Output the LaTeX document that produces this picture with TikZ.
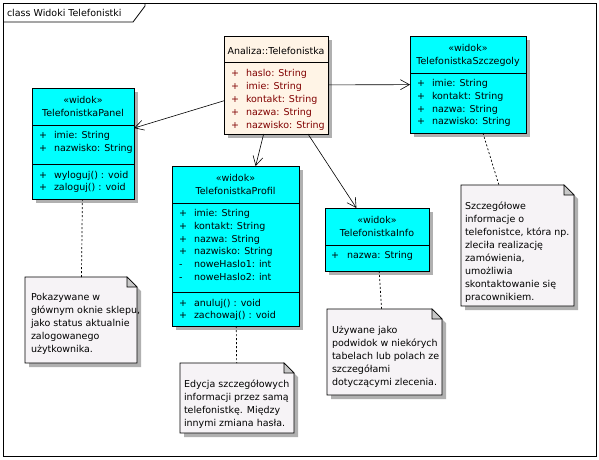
\documentclass[tikz,border=0pt]{standalone}
\usepackage{fontspec}
\setmainfont{DejaVu Sans}
\usetikzlibrary{arrows.meta,calc}
\definecolor{clscyan}{RGB}{0,255,255}
\definecolor{clsbeige}{RGB}{255,244,230}
\definecolor{notefill}{RGB}{246,243,246}
\definecolor{shadowgray}{RGB}{176,176,176}
\definecolor{foldgray}{RGB}{200,200,200}
\definecolor{attrred}{RGB}{128,0,0}
\newcommand\drawnote[1]{%
  \draw[notebody] (#1.north west) -- ($(#1.north east)+(-10,0)$) -- ($(#1.north east)+(0,10)$) -- (#1.south east) -- (#1.south west) -- cycle;
  \draw[line width=0.6pt, fill=foldgray] ($(#1.north east)+(-10,0)$) -- ($(#1.north east)+(-10,10)$) -- ($(#1.north east)+(0,10)$) -- cycle;}
\newcommand\sepline[2]{\draw[line width=0.8pt] ($(#1.north west)+(0,#2)$) -- ($(#1.north east)+(0,#2)$);}
\begin{document}
\begin{tikzpicture}[x=1pt,y=-1pt,
  font=\fontsize{9.5}{13}\selectfont,
  every node/.style={inner sep=0pt, outer sep=0pt},
  shadowed/.style={preaction={fill=shadowgray, draw=none, transform canvas={shift={(4pt,-4pt)}}}},
  classbox/.style={draw=black, line width=0.8pt, anchor=north west, shadowed},
  viewbox/.style={classbox, fill=clscyan},
  notearea/.style={anchor=north west},
  txt/.style={anchor=base west},
  rtxt/.style={anchor=base west, text=attrred},
  ctxt/.style={anchor=base},
  notebody/.style={draw=black, line width=0.8pt, fill=notefill, shadowed},
  notetxt/.style={anchor=north west, align=left},
  dep/.style={-{Straight Barb[length=9pt,width=10pt]}, line width=0.6pt},
  notelink/.style={dash pattern=on 2pt off 2pt, line width=0.7pt}
]
\useasboundingbox (0,0) rectangle (599,459);
\fill[white] (0,0) rectangle (599,459);

% frame
\draw[line width=0.8pt] (3,3) rectangle (596,456);
\draw[line width=0.8pt] (145,3) -- (145,6) -- (133,22) -- (3,22);
\node[txt] (frametitle) at (7,16) {class Widoki Telefonistki};

% ---- Analiza::Telefonistka
\node[classbox, fill=clsbeige, minimum width=104, minimum height=98] (tel) at (224,36) {};
\sepline{tel}{26}
\node[ctxt] (telname) at (276,54) {Analiza::Telefonistka};
\foreach \i/\t in {0/haslo:\hspace{4pt}String, 1/imie:\hspace{4pt}String, 2/kontakt:\hspace{4pt}String, 3/nazwa:\hspace{4pt}String, 4/nazwisko:\hspace{4pt}String}{
  \node[rtxt] (telp\i) at (231,76+13*\i) {+};
  \node[rtxt] (tela\i) at (246,76+13*\i) {\t};
}

% ---- TelefonistkaSzczegoly
\node[viewbox, minimum width=116, minimum height=97] (szcz) at (410,36) {};
\sepline{szcz}{37}
\node[ctxt] (szczst) at (468,51) {«widok»};
\node[ctxt] (szczname) at (468,64) {TelefonistkaSzczegoly};
\foreach \i/\t in {0/imie:\hspace{4pt}String, 1/kontakt:\hspace{4pt}String, 2/nazwa:\hspace{4pt}String, 3/nazwisko:\hspace{4pt}String}{
  \node[txt] (szczp\i) at (417,86.5+12.8*\i) {+};
  \node[txt] (szcza\i) at (432,86.5+12.8*\i) {\t};
}

% ---- TelefonistkaPanel
\node[viewbox, minimum width=102, minimum height=111] (panel) at (32,88) {};
\sepline{panel}{37}
\sepline{panel}{76}
\node[ctxt] (panelst) at (83,103) {«widok»};
\node[ctxt] (panelname) at (83,116) {TelefonistkaPanel};
\foreach \i/\t in {0/imie:\hspace{4pt}String, 1/nazwisko:\hspace{4pt}String}{
  \node[txt] (panelp\i) at (39,138.5+12.8*\i) {+};
  \node[txt] (panela\i) at (54,138.5+12.8*\i) {\t};
}
\foreach \i/\t in {0/wyloguj() : void, 1/zaloguj() : void}{
  \node[txt] (panelq\i) at (39,178+12.8*\i) {+};
  \node[txt] (panelo\i) at (54,178+12.8*\i) {\t};
}

% ---- TelefonistkaProfil
\node[viewbox, minimum width=127, minimum height=160] (prof) at (172,166) {};
\sepline{prof}{37}
\sepline{prof}{126}
\node[ctxt] (profst) at (235.5,181) {«widok»};
\node[ctxt] (profname) at (235.5,194) {TelefonistkaProfil};
\foreach \i/\s/\t in {0/+/imie:\hspace{4pt}String, 1/+/kontakt:\hspace{4pt}String, 2/+/nazwa:\hspace{4pt}String, 3/+/nazwisko:\hspace{4pt}String, 4/-/noweHaslo1:\hspace{4pt}int, 5/-/noweHaslo2:\hspace{4pt}int}{
  \node[txt] (profp\i) at (179,216.5+12.8*\i) {\s};
  \node[txt] (profa\i) at (194,216.5+12.8*\i) {\t};
}
\foreach \i/\t in {0/anuluj() : void, 1/zachowaj() : void}{
  \node[txt] (profq\i) at (179,306+12.8*\i) {+};
  \node[txt] (profo\i) at (194,306+12.8*\i) {\t};
}

% ---- TelefonistkaInfo
\node[viewbox, minimum width=104, minimum height=63] (info) at (325,208) {};
\sepline{info}{37}
\node[ctxt] (infost) at (377,223) {«widok»};
\node[ctxt] (infoname) at (377,236) {TelefonistkaInfo};
\node[txt] (infop0) at (331,258.5) {+};
\node[txt] (infoa0) at (347,258.5) {nazwa:\hspace{4pt}String};

% ---- notes
\node[notearea, minimum width=112, minimum height=86] (npan) at (25,277) {};
\drawnote{npan}
\node[notetxt] (tpan) at (31,290.9) {\strut Pokazywane w\\głównym oknie sklepu,\\jako status aktualnie\\zalogowanego\\użytkownika.};

\node[notearea, minimum width=114, minimum height=70] (nprof) at (180,363) {};
\drawnote{nprof}
\node[notetxt] (tprof) at (184,377.9) {\strut Edycja szczegółowych\\informacji przez samą\\telefonistkę. Między\\innymi zmiana hasła.};

\node[notearea, minimum width=115, minimum height=86] (ninfo) at (327,309) {};
\drawnote{ninfo}
\node[notetxt] (tinfo) at (332,324) {\strut Używane jako\\podwidok w niekórych\\tabelach lub polach ze\\szczegółami\\dotyczącymi zlecenia.};

\node[notearea, minimum width=113, minimum height=121] (nszcz) at (461,185) {};
\drawnote{nszcz}
\node[notetxt] (tszcz) at (465,200.5) {\strut Szczegółowe\\informacje o\\telefonistce, która np.\\zleciła realizację\\zamówienia,\\umożliwia\\skontaktowanie się\\pracownikiem.};

% ---- connectors
\draw[dep] (tel) -- (panel);
\draw[dep] (tel) -- (prof);
\draw[dep] (tel) -- (info);
\draw[dep] (tel) -- (szcz);
\draw[notelink] (panel) -- (npan);
\draw[notelink] (prof) -- (nprof);
\draw[notelink] (info) -- (ninfo);
\draw[notelink] (szcz) -- (nszcz);
\end{tikzpicture}
\end{document}
